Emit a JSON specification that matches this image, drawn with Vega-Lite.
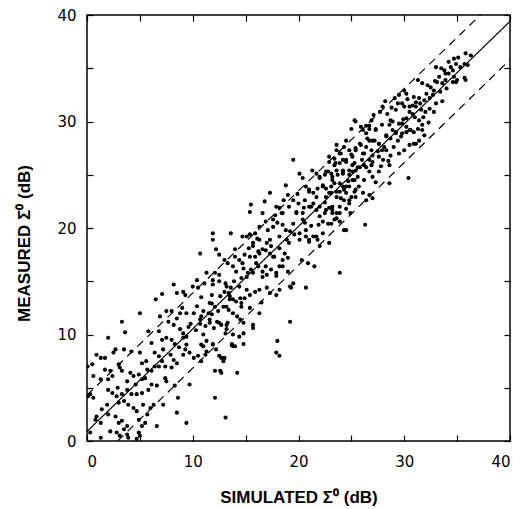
{
  "$schema": "https://vega.github.io/schema/vega-lite/v6.json",
  "width": 423,
  "height": 426,
  "autosize": {"type": "none"},
  "padding": {"left": 87, "top": 15, "right": 15, "bottom": 68},
  "background": "white",
  "config": {
    "view": {"stroke": "black", "strokeWidth": 1.5},
    "axis": {
      "grid": false,
      "domain": false,
      "tickColor": "black",
      "tickWidth": 1.2,
      "tickSize": -6,
      "labelFont": "DejaVu Sans",
      "labelFontSize": 15,
      "labelColor": "black",
      "titleFont": "Liberation Sans",
      "titleFontSize": 17,
      "titleFontWeight": "bold",
      "titleColor": "black"
    }
  },
  "datasets": {
    "lines": [
      {"x": 0, "y": 0.9, "g": "solid"}, {"x": 40, "y": 39.4, "g": "solid"},
      {"x": 0, "y": 4.3, "g": "upper"}, {"x": 37.2, "y": 40, "g": "upper"},
      {"x": 2.9, "y": 0, "g": "lower"}, {"x": 40, "y": 35.8, "g": "lower"}
    ],
    "pts": [
      {"x":8.2,"y":14.7},{"x":10.4,"y":15.1},{"x":11.9,"y":14.7},{"x":13.1,"y":14.8},{"x":7.1,"y":13.8},{"x":6.5,"y":13.3},{"x":9.1,"y":14.0},{"x":9.3,"y":13.7},{"x":8.5,"y":13.9},{"x":10.8,"y":13.5},{"x":11.8,"y":13.7},{"x":11.8,"y":12.9},{"x":5.0,"y":12.0},{"x":13.5,"y":13.3},{"x":13.8,"y":13.3},{"x":14.5,"y":13.4},{"x":14.6,"y":12.96},{"x":10.4,"y":12.65},{"x":9.0,"y":12.5},{"x":9.4,"y":12.0},{"x":10.1,"y":12.0},{"x":11.0,"y":12.2},{"x":11.5,"y":12.0},{"x":11.8,"y":11.9},{"x":13.2,"y":12.6},{"x":13.4,"y":12.3},{"x":13.8,"y":12.0},{"x":3.3,"y":11.2},{"x":8.0,"y":12.2},{"x":8.2,"y":10.9},{"x":7.7,"y":11.2},{"x":6.8,"y":10.3},{"x":5.8,"y":10.3},{"x":3.6,"y":10.2},{"x":8.8,"y":10.5},{"x":9.1,"y":10.1},{"x":9.4,"y":9.8},{"x":9.1,"y":9.7},{"x":10.7,"y":11.4},{"x":10.7,"y":11.0},{"x":11.2,"y":10.8},{"x":11.6,"y":11.1},{"x":12.3,"y":11.2},{"x":12.7,"y":10.9},{"x":13.2,"y":10.9},{"x":13.2,"y":10.5},{"x":13.1,"y":10.1},{"x":14.2,"y":11.7},{"x":14.5,"y":11.4},{"x":14.8,"y":11.1},{"x":13.7,"y":9.0},{"x":13.8,"y":8.9},{"x":2.0,"y":9.7},{"x":6.1,"y":9.2},{"x":7.1,"y":9.5},{"x":7.5,"y":9.7},{"x":8.0,"y":9.5},{"x":8.3,"y":9.1},{"x":9.4,"y":9.05},{"x":9.3,"y":8.6},{"x":9.7,"y":8.3},{"x":9.1,"y":8.1},{"x":10.1,"y":7.8},{"x":10.5,"y":8.0},{"x":10.8,"y":7.5},{"x":11.2,"y":8.1},{"x":11.3,"y":8.4},{"x":10.8,"y":9.05},{"x":11.0,"y":8.9},{"x":11.9,"y":9.05},{"x":12.7,"y":7.8},{"x":12.9,"y":7.5},{"x":12.1,"y":6.6},{"x":12.6,"y":6.6},{"x":12.7,"y":6.4},{"x":14.2,"y":6.4},{"x":0.9,"y":8.1},{"x":1.3,"y":7.8},{"x":1.7,"y":7.8},{"x":2.7,"y":8.6},{"x":2.5,"y":8.3},{"x":3.5,"y":8.6},{"x":4.2,"y":8.4},{"x":5.0,"y":8.3},{"x":5.2,"y":7.3},{"x":6.8,"y":7.96},{"x":7.1,"y":7.5},{"x":6.8,"y":7.0},{"x":7.4,"y":7.0},{"x":8.2,"y":7.6},{"x":8.5,"y":7.3},{"x":8.0,"y":6.9},{"x":3.0,"y":7.2},{"x":3.1,"y":6.9},{"x":3.3,"y":6.6},{"x":0.5,"y":7.2},{"x":0.6,"y":6.1},{"x":1.7,"y":6.7},{"x":2.2,"y":6.6},{"x":2.4,"y":6.1},{"x":2.0,"y":5.8},{"x":1.3,"y":5.8},{"x":4.1,"y":6.4},{"x":4.4,"y":6.1},{"x":4.9,"y":6.25},{"x":5.2,"y":5.8},{"x":5.5,"y":5.9},{"x":5.7,"y":6.7},{"x":6.1,"y":6.6},{"x":6.4,"y":7.0},{"x":6.1,"y":5.3},{"x":6.6,"y":5.2},{"x":5.8,"y":4.8},{"x":7.5,"y":5.6},{"x":7.4,"y":5.9},{"x":8.3,"y":5.2},{"x":9.7,"y":5.3},{"x":8.6,"y":4.06},{"x":8.5,"y":2.66},{"x":12.1,"y":4.06},{"x":0.3,"y":4.4},{"x":0.6,"y":4.06},{"x":2.0,"y":4.8},{"x":2.4,"y":4.5},{"x":2.8,"y":4.2},{"x":3.3,"y":4.4},{"x":3.8,"y":4.8},{"x":4.2,"y":4.4},{"x":4.7,"y":4.4},{"x":5.2,"y":4.5},{"x":3.0,"y":3.6},{"x":3.5,"y":3.75},{"x":3.9,"y":3.4},{"x":1.9,"y":3.4},{"x":1.4,"y":2.97},{"x":5.3,"y":3.4},{"x":6.0,"y":3.1},{"x":6.3,"y":3.4},{"x":7.2,"y":3.4},{"x":4.4,"y":3.1},{"x":4.7,"y":2.8},{"x":0.9,"y":2.3},{"x":0.8,"y":2.0},{"x":1.3,"y":1.7},{"x":2.0,"y":2.5},{"x":2.7,"y":2.3},{"x":3.0,"y":1.7},{"x":3.3,"y":1.9},{"x":3.8,"y":1.4},{"x":3.5,"y":1.1},{"x":4.9,"y":2.0},{"x":5.2,"y":1.4},{"x":5.5,"y":1.7},{"x":5.7,"y":2.5},{"x":6.6,"y":1.4},{"x":9.4,"y":1.7},{"x":13.1,"y":2.2},{"x":2.2,"y":0.9},{"x":2.8,"y":0.8},{"x":3.1,"y":0.5},{"x":3.8,"y":0.6},{"x":3.9,"y":0.3},{"x":4.9,"y":0.8},{"x":1.3,"y":0.3},{"x":0.3,"y":0.8},{"x":4.7,"y":0.2},{"x":5.0,"y":0.5},
      {"x":10.7,"y":17.6},{"x":14.0,"y":18.0},{"x":13.3,"y":16.7},{"x":12.1,"y":15.8},{"x":12.5,"y":15.6},{"x":10.0,"y":14.5},{"x":10.5,"y":14.4},{"x":6.9,"y":11.7},{"x":7.5,"y":12.2},{"x":8.8,"y":12.0},{"x":8.5,"y":11.5},{"x":0.05,"y":7.0},{"x":0.1,"y":4.2},
      {"x":22.9,"y":26.2},{"x":23.4,"y":25.9},{"x":23.9,"y":26.1},{"x":24.5,"y":26.2},{"x":25.1,"y":25.9},{"x":25.4,"y":25.4},{"x":20.1,"y":25.1},{"x":20.4,"y":24.7},{"x":21.7,"y":25.1},{"x":22.0,"y":24.7},{"x":22.5,"y":25.0},{"x":22.8,"y":25.3},{"x":23.2,"y":24.8},{"x":23.7,"y":25.0},{"x":24.2,"y":25.1},{"x":24.8,"y":25.0},{"x":25.3,"y":24.5},{"x":18.8,"y":24.0},{"x":17.3,"y":23.3},{"x":20.7,"y":23.9},{"x":21.0,"y":23.6},{"x":21.4,"y":23.3},{"x":21.8,"y":23.7},{"x":22.3,"y":24.0},{"x":22.6,"y":23.7},{"x":23.1,"y":23.9},{"x":23.6,"y":23.4},{"x":24.2,"y":23.9},{"x":24.5,"y":23.3},{"x":25.0,"y":22.9},{"x":25.3,"y":23.4},{"x":16.8,"y":22.5},{"x":15.5,"y":22.2},{"x":15.4,"y":21.5},{"x":19.5,"y":22.6},{"x":20.0,"y":22.3},{"x":19.8,"y":21.5},{"x":18.2,"y":21.9},{"x":18.4,"y":21.4},{"x":20.4,"y":21.4},{"x":21.0,"y":22.0},{"x":21.4,"y":22.3},{"x":21.7,"y":21.7},{"x":22.0,"y":21.1},{"x":22.5,"y":21.4},{"x":22.9,"y":21.9},{"x":23.2,"y":21.4},{"x":23.6,"y":20.9},{"x":22.3,"y":20.6},{"x":22.8,"y":20.4},{"x":23.9,"y":20.6},{"x":24.5,"y":19.8},{"x":17.6,"y":20.8},{"x":18.0,"y":20.5},{"x":18.5,"y":20.3},{"x":16.3,"y":20.1},{"x":17.1,"y":19.8},{"x":14.7,"y":19.2},{"x":15.4,"y":19.4},{"x":15.9,"y":19.5},{"x":11.9,"y":19.5},{"x":11.9,"y":18.9},{"x":13.6,"y":19.5},{"x":19.2,"y":19.7},{"x":19.6,"y":19.4},{"x":20.1,"y":18.9},{"x":20.7,"y":19.2},{"x":21.0,"y":18.7},{"x":21.4,"y":19.2},{"x":21.8,"y":18.9},{"x":22.0,"y":18.3},{"x":17.0,"y":18.6},{"x":17.4,"y":18.3},{"x":16.6,"y":18.0},{"x":17.3,"y":17.6},{"x":17.7,"y":17.3},{"x":15.7,"y":18.3},{"x":16.2,"y":17.8},{"x":15.9,"y":17.3},{"x":18.2,"y":18.1},{"x":18.7,"y":17.6},{"x":19.0,"y":17.2},{"x":18.5,"y":17.0},{"x":20.3,"y":17.0},{"x":20.9,"y":16.7},{"x":21.5,"y":16.4},{"x":12.2,"y":18.0},{"x":12.5,"y":17.5},{"x":13.0,"y":17.0},{"x":14.0,"y":17.3},{"x":14.4,"y":17.0},{"x":14.9,"y":17.5},{"x":13.8,"y":16.4},{"x":14.1,"y":15.9},{"x":14.8,"y":16.2},{"x":15.2,"y":15.8},{"x":15.5,"y":16.1},{"x":16.2,"y":16.4},{"x":16.6,"y":15.9},{"x":17.0,"y":15.6},{"x":17.4,"y":16.1},{"x":17.9,"y":15.5},{"x":18.5,"y":16.4},{"x":19.0,"y":15.9},{"x":19.5,"y":14.8},{"x":19.2,"y":14.5},{"x":23.9,"y":15.8},{"x":11.3,"y":15.8},{"x":11.1,"y":14.8},{"x":11.9,"y":15.1},{"x":12.5,"y":15.0},{"x":13.2,"y":14.5},{"x":13.0,"y":14.0},{"x":13.6,"y":14.4},{"x":14.4,"y":14.5},{"x":15.1,"y":14.2},{"x":15.4,"y":13.7},{"x":15.9,"y":14.0},{"x":16.3,"y":14.2},{"x":17.0,"y":14.4},{"x":17.3,"y":13.9},{"x":17.9,"y":13.7},{"x":18.2,"y":14.2},{"x":19.3,"y":14.4},{"x":20.7,"y":14.4},{"x":11.6,"y":12.96},{"x":12.1,"y":12.6},{"x":12.4,"y":12.2},{"x":12.9,"y":12.6},{"x":13.5,"y":13.6},{"x":14.1,"y":13.1},{"x":14.6,"y":12.6},{"x":14.9,"y":13.4},{"x":15.4,"y":12.5},{"x":16.3,"y":12.0},{"x":16.5,"y":13.0},{"x":10.8,"y":11.7},{"x":11.6,"y":11.4},{"x":12.5,"y":11.1},{"x":13.3,"y":11.1},{"x":13.8,"y":10.0},{"x":14.4,"y":9.8},{"x":14.8,"y":10.1},{"x":15.7,"y":10.9},{"x":15.7,"y":10.6},{"x":19.2,"y":11.2},{"x":18.0,"y":9.4},{"x":17.9,"y":8.3},{"x":18.2,"y":8.0},{"x":11.0,"y":10.0},{"x":11.3,"y":9.4},{"x":11.9,"y":9.1},{"x":12.2,"y":8.6},{"x":13.7,"y":9.1},{"x":14.0,"y":8.9},{"x":14.8,"y":9.1},{"x":12.5,"y":8.0},{"x":13.0,"y":7.8},
      {"x":35.8,"y":36.4},{"x":36.3,"y":36.2},{"x":34.7,"y":35.9},{"x":34.9,"y":35.4},{"x":35.3,"y":35.1},{"x":35.7,"y":35.4},{"x":36.0,"y":35.3},{"x":34.2,"y":35.6},{"x":33.0,"y":35.1},{"x":33.5,"y":35.0},{"x":33.8,"y":34.8},{"x":33.9,"y":34.5},{"x":34.2,"y":34.5},{"x":34.6,"y":34.8},{"x":34.7,"y":34.2},{"x":34.9,"y":33.7},{"x":34.6,"y":33.7},{"x":35.8,"y":33.9},{"x":33.3,"y":34.2},{"x":33.1,"y":33.7},{"x":33.6,"y":33.6},{"x":33.9,"y":33.9},{"x":31.3,"y":33.9},{"x":31.7,"y":33.6},{"x":32.2,"y":33.4},{"x":32.5,"y":33.2},{"x":32.8,"y":32.9},{"x":32.7,"y":32.5},{"x":32.4,"y":32.2},{"x":31.9,"y":32.0},{"x":31.4,"y":32.2},{"x":30.9,"y":32.3},{"x":33.0,"y":31.7},{"x":32.8,"y":30.9},{"x":32.4,"y":31.2},{"x":32.0,"y":30.9},{"x":31.6,"y":31.1},{"x":31.1,"y":31.4},{"x":30.8,"y":31.5},{"x":30.2,"y":32.6},{"x":29.5,"y":32.5},{"x":29.1,"y":32.2},{"x":29.4,"y":31.7},{"x":30.0,"y":31.4},{"x":30.5,"y":30.9},{"x":31.4,"y":30.1},{"x":31.7,"y":29.7},{"x":31.3,"y":29.3},{"x":30.9,"y":29.0},{"x":30.5,"y":29.2},{"x":30.2,"y":29.5},{"x":29.8,"y":29.8},{"x":28.9,"y":30.0},{"x":28.6,"y":29.7},{"x":27.9,"y":29.7},{"x":27.3,"y":29.3},{"x":26.7,"y":29.3},{"x":26.1,"y":29.2},{"x":25.4,"y":30.0},{"x":29.2,"y":28.9},{"x":29.7,"y":28.6},{"x":30.2,"y":29.0},{"x":29.4,"y":28.2},{"x":28.7,"y":28.4},{"x":28.3,"y":28.7},{"x":31.7,"y":29.2},{"x":31.9,"y":28.7},{"x":31.4,"y":28.2},{"x":30.9,"y":27.9},{"x":30.5,"y":27.8},{"x":30.0,"y":27.3},{"x":29.5,"y":27.0},{"x":28.6,"y":25.9},{"x":28.7,"y":26.8},{"x":28.1,"y":27.6},{"x":27.6,"y":27.9},{"x":27.2,"y":28.2},{"x":26.7,"y":28.2},{"x":26.4,"y":27.6},{"x":25.9,"y":27.8},{"x":25.4,"y":27.5},{"x":24.8,"y":27.3},{"x":24.3,"y":27.6},{"x":23.6,"y":27.8},{"x":24.0,"y":27.0},{"x":23.4,"y":26.5},{"x":24.2,"y":26.4},{"x":25.1,"y":26.7},{"x":26.1,"y":27.0},{"x":27.0,"y":26.8},{"x":27.6,"y":26.7},{"x":27.9,"y":27.3},{"x":26.7,"y":26.4},{"x":26.2,"y":25.9},{"x":25.8,"y":25.7},{"x":25.3,"y":26.1},{"x":24.8,"y":25.4},{"x":24.2,"y":25.3},{"x":23.6,"y":25.4},{"x":23.1,"y":25.1},{"x":26.7,"y":25.3},{"x":27.0,"y":24.8},{"x":27.6,"y":25.3},{"x":27.3,"y":24.3},{"x":26.2,"y":24.5},{"x":25.7,"y":23.9},{"x":25.4,"y":23.6},{"x":25.1,"y":24.5},{"x":24.8,"y":23.9},{"x":24.3,"y":23.6},{"x":23.9,"y":23.4},{"x":23.4,"y":24.2},{"x":23.1,"y":23.3},{"x":26.1,"y":23.3},{"x":26.7,"y":23.1},{"x":26.4,"y":22.6},{"x":27.0,"y":22.8},{"x":24.3,"y":22.6},{"x":24.8,"y":22.3},{"x":23.9,"y":22.0},{"x":23.6,"y":21.4},{"x":23.2,"y":21.7},{"x":23.4,"y":20.8},{"x":23.1,"y":20.4},{"x":24.5,"y":21.8},{"x":24.9,"y":21.4},{"x":28.6,"y":24.2},{"x":30.4,"y":24.7},{"x":26.3,"y":20.3},{"x":24.3,"y":19.8},{"x":25.3,"y":30.1},{"x":25.0,"y":29.3},{"x":23.6,"y":27.3},{"x":22.9,"y":26.7},{"x":24.5,"y":28.2},{"x":26.4,"y":29.6},{"x":26.9,"y":30.1},{"x":30.0,"y":32.9},{"x":30.3,"y":32.1},{"x":19.5,"y":26.4},{"x":35.0,"y":33.9},{"x":35.7,"y":34.1},
      {"x":27.95,"y":31.4},{"x":28.4,"y":30.7},{"x":29.2,"y":31.1},{"x":29.8,"y":31.7},{"x":30.5,"y":31.4},{"x":31.1,"y":31.8},{"x":28.7,"y":30.1},{"x":29.5,"y":29.8},{"x":30.2,"y":30.3},{"x":30.8,"y":30.7},{"x":29.2,"y":29.0},{"x":28.3,"y":28.6},{"x":29.8,"y":28.9},{"x":30.6,"y":29.2},{"x":31.1,"y":27.9},{"x":25.9,"y":29.5},{"x":26.7,"y":29.6},{"x":27.3,"y":29.2},{"x":26.4,"y":28.9},{"x":27.0,"y":28.2},{"x":27.6,"y":27.9},{"x":25.8,"y":27.9},{"x":25.4,"y":27.3},{"x":26.2,"y":27.0},{"x":26.9,"y":27.3},{"x":27.5,"y":27.2},{"x":28.3,"y":27.3},{"x":28.0,"y":26.4},{"x":27.0,"y":26.2},{"x":26.4,"y":25.7},{"x":25.6,"y":25.7},{"x":25.1,"y":25.3},{"x":24.5,"y":26.4},{"x":23.9,"y":27.0},{"x":23.5,"y":26.1},{"x":24.2,"y":25.4},{"x":21.3,"y":25.4},{"x":22.0,"y":24.8},{"x":22.6,"y":25.3},{"x":23.2,"y":24.5},{"x":23.9,"y":24.2},{"x":24.5,"y":23.9},{"x":22.3,"y":23.9},{"x":22.9,"y":23.3},{"x":23.6,"y":22.9},{"x":21.7,"y":22.9},{"x":21.0,"y":23.4},{"x":20.6,"y":22.6},{"x":21.2,"y":22.0},{"x":22.0,"y":22.0},{"x":22.6,"y":21.7},{"x":23.2,"y":22.0},{"x":23.9,"y":21.4},{"x":24.8,"y":22.6},{"x":25.4,"y":22.9},{"x":17.9,"y":22.0},{"x":18.5,"y":21.4},{"x":19.1,"y":22.0},{"x":19.8,"y":21.4},{"x":20.4,"y":20.8},{"x":19.5,"y":20.4},{"x":18.8,"y":19.8},{"x":20.1,"y":19.5},{"x":20.7,"y":19.8},{"x":21.0,"y":18.9},{"x":18.2,"y":19.2},{"x":17.6,"y":20.1},{"x":17.3,"y":18.9},{"x":19.1,"y":18.6},{"x":21.7,"y":19.2},{"x":22.3,"y":19.5},{"x":22.9,"y":18.6},{"x":15.1,"y":19.2},{"x":15.7,"y":18.6},{"x":16.3,"y":18.9},{"x":16.9,"y":17.9},{"x":16.3,"y":17.6},{"x":15.4,"y":17.3},{"x":14.7,"y":16.7},{"x":16.0,"y":16.7},{"x":16.9,"y":16.4},{"x":17.6,"y":17.3},{"x":18.2,"y":16.4},{"x":17.9,"y":15.8},{"x":15.7,"y":15.8},{"x":15.1,"y":15.4},{"x":16.6,"y":15.4},
      {"x":27.1,"y":30.6},{"x":27.7,"y":30.9},{"x":28.2,"y":31.9},{"x":28.8,"y":31.3},{"x":29.9,"y":30.2},{"x":31.0,"y":30.4},{"x":32.1,"y":32.6},{"x":32.9,"y":33.8},{"x":33.4,"y":32.8},{"x":34.0,"y":33.1},{"x":34.4,"y":35.1},{"x":35.1,"y":36.0},{"x":33.6,"y":31.9},{"x":32.3,"y":29.9},{"x":31.8,"y":30.4},{"x":29.0,"y":27.6},{"x":28.5,"y":26.3},{"x":27.8,"y":25.8},{"x":26.9,"y":25.9},{"x":26.0,"y":26.4},{"x":25.6,"y":24.8},{"x":24.7,"y":24.4},{"x":24.0,"y":22.8},{"x":22.5,"y":22.4},{"x":21.9,"y":20.3},{"x":21.2,"y":20.2},{"x":20.5,"y":21.9},{"x":19.9,"y":23.2},{"x":19.0,"y":23.1},{"x":18.6,"y":22.6},{"x":17.8,"y":21.2},{"x":16.9,"y":20.6},{"x":16.6,"y":21.4},{"x":16.1,"y":19.0},{"x":15.3,"y":18.1},{"x":14.6,"y":15.3},{"x":13.9,"y":15.0},{"x":13.4,"y":13.9},{"x":12.6,"y":13.6},{"x":12.0,"y":10.6},{"x":10.3,"y":10.4},{"x":9.8,"y":11.0},{"x":9.6,"y":10.7},{"x":8.7,"y":8.8},{"x":7.9,"y":8.1},{"x":7.2,"y":8.6},{"x":6.4,"y":8.3},{"x":5.6,"y":7.5},{"x":4.6,"y":5.3},{"x":3.8,"y":5.6},{"x":2.9,"y":5.0},{"x":18.9,"y":18.9},{"x":20.6,"y":20.5},{"x":22.6,"y":22.9},{"x":25.0,"y":26.9},{"x":26.5,"y":28.4},{"x":28.9,"y":29.2},{"x":31.5,"y":31.7}
    ]
  },
  "layer": [
    {
      "data": {"name": "lines"},
      "mark": {"type": "line", "color": "black", "strokeWidth": 1.2, "clip": true},
      "encoding": {
        "x": {"field": "x", "type": "quantitative", "scale": {"domain": [0, 40], "nice": false},
          "axis": {"orient": "bottom", "values": [0,5,10,15,20,25,30,35,40], "labelExpr": "datum.value % 10 === 0 ? datum.label : ''",
            "labelPadding": 19, "title": "SIMULATED Σ⁰ (dB)", "titleY": 61, "titleBaseline": "alphabetic"}},
        "y": {"field": "y", "type": "quantitative", "scale": {"domain": [0, 40], "nice": false},
          "axis": {"orient": "left", "values": [0,5,10,15,20,25,30,35,40], "labelExpr": "datum.value % 10 === 0 ? datum.label : ''",
            "labelPadding": 17, "title": "MEASURED Σ⁰ (dB)", "titleX": -63, "titleY": 228, "titleBaseline": "middle", "titleAngle": -90}},
        "detail": {"field": "g", "type": "nominal"},
        "strokeDash": {"field": "g", "type": "nominal", "scale": {"domain": ["solid", "upper", "lower"], "range": [[1, 0], [8, 6], [8, 6]]}, "legend": null}
      }
    },
    {
      "data": {"name": "pts"},
      "mark": {"type": "circle", "color": "black", "size": 17, "opacity": 1, "clip": true},
      "encoding": {
        "x": {"field": "x", "type": "quantitative", "scale": {"domain": [0, 40], "nice": false},
          "axis": {"orient": "top", "values": [0,5,10,15,20,25,30,35,40], "labels": false, "title": null}},
        "y": {"field": "y", "type": "quantitative", "scale": {"domain": [0, 40], "nice": false},
          "axis": {"orient": "right", "values": [0,5,10,15,20,25,30,35,40], "labels": false, "title": null}}
      }
    }
  ],
  "resolve": {"axis": {"x": "independent", "y": "independent"}}
}
